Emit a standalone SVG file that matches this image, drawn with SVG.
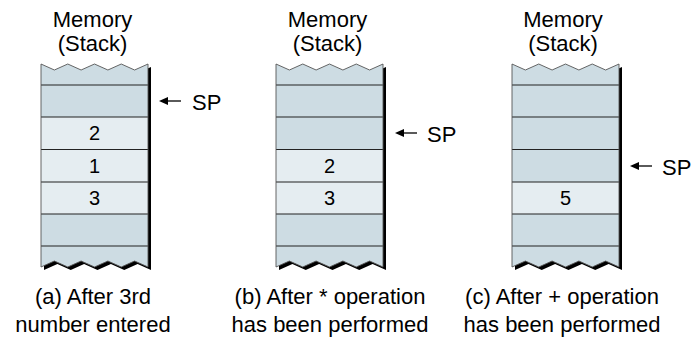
<svg xmlns="http://www.w3.org/2000/svg" width="697" height="339" viewBox="0 0 697 339">
<style>
text{font-family:"Liberation Sans",Arial,sans-serif;fill:#000}
.lbl{font-size:22px;text-anchor:middle}
.num{font-size:20px;text-anchor:middle}
.sp{font-size:22px}
.dark{fill:#cddce3}
.light{fill:#e5edf1}
.row{stroke:#222;stroke-width:1.2}
.edge{fill:none;stroke:#555;stroke-width:0.9}
.arr{stroke:#000;stroke-width:1.3;fill:none}
.head{fill:#000}
</style>
<defs>
<path id="outline" d="M0,64 L13.4,70 L26.75,64 L40.1,70 L53.5,64 L66.9,70 L80.25,64 L93.6,70 L107,64 L107,267 L93.6,261 L80.25,267 L66.9,261 L53.5,267 L40.1,261 L26.75,267 L13.4,261 L0,267 Z"/>
<clipPath id="clip"><use href="#outline"/></clipPath>
<g id="lines">
<line class="row" x1="0" y1="85" x2="107" y2="85"/>
<line class="row" x1="0" y1="117" x2="107" y2="117"/>
<line class="row" x1="0" y1="149.5" x2="107" y2="149.5"/>
<line class="row" x1="0" y1="182" x2="107" y2="182"/>
<line class="row" x1="0" y1="214" x2="107" y2="214"/>
<line class="row" x1="0" y1="246" x2="107" y2="246"/>
</g>
</defs>

<g id="stack-a" transform="translate(41,0)">
<use href="#outline" transform="translate(3,3)" fill="#000"/>
<use href="#outline" class="dark"/>
<g clip-path="url(#clip)">
<rect class="light" x="0" y="117" width="107" height="97"/>
</g>
<use href="#lines"/>
<use href="#outline" class="edge"/>
<text class="num" x="53.5" y="140">2</text>
<text class="num" x="53.5" y="172.5">1</text>
<text class="num" x="53.5" y="205">3</text>
</g>

<g id="stack-b" transform="translate(276,0)">
<use href="#outline" transform="translate(3,3)" fill="#000"/>
<use href="#outline" class="dark"/>
<g clip-path="url(#clip)">
<rect class="light" x="0" y="149.5" width="107" height="64.5"/>
</g>
<use href="#lines"/>
<use href="#outline" class="edge"/>
<text class="num" x="53.5" y="172.5">2</text>
<text class="num" x="53.5" y="205">3</text>
</g>

<g id="stack-c" transform="translate(512,0)">
<use href="#outline" transform="translate(3,3)" fill="#000"/>
<use href="#outline" class="dark"/>
<g clip-path="url(#clip)">
<rect class="light" x="0" y="182" width="107" height="32"/>
</g>
<use href="#lines"/>
<use href="#outline" class="edge"/>
<text class="num" x="53.5" y="205">5</text>
</g>

<g id="labels">
<text class="lbl" x="92.5" y="27">Memory</text>
<text class="lbl" x="92.5" y="51">(Stack)</text>
<text class="lbl" x="327.5" y="27">Memory</text>
<text class="lbl" x="327.5" y="51">(Stack)</text>
<text class="lbl" x="563" y="27">Memory</text>
<text class="lbl" x="563" y="51">(Stack)</text>
<text class="lbl" x="93" y="304">(a) After 3rd</text>
<text class="lbl" x="93" y="332">number entered</text>
<text class="lbl" x="330" y="304">(b) After * operation</text>
<text class="lbl" x="330" y="332">has been performed</text>
<text class="lbl" x="562" y="304">(c) After + operation</text>
<text class="lbl" x="562" y="332">has been performed</text>
</g>

<g id="connectors">
<line class="arr" x1="181" y1="101" x2="165" y2="101"/>
<polygon class="head" points="159,101 168,97 168,105"/>
<line class="arr" x1="417" y1="133" x2="401" y2="133"/>
<polygon class="head" points="395,133 404,129 404,137"/>
<line class="arr" x1="652" y1="166" x2="636" y2="166"/>
<polygon class="head" points="630,166 639,162 639,170"/>
</g>

<g id="sp-labels">
<text class="sp" x="192" y="110">SP</text>
<text class="sp" x="427" y="142">SP</text>
<text class="sp" x="662" y="175">SP</text>
</g>
</svg>
